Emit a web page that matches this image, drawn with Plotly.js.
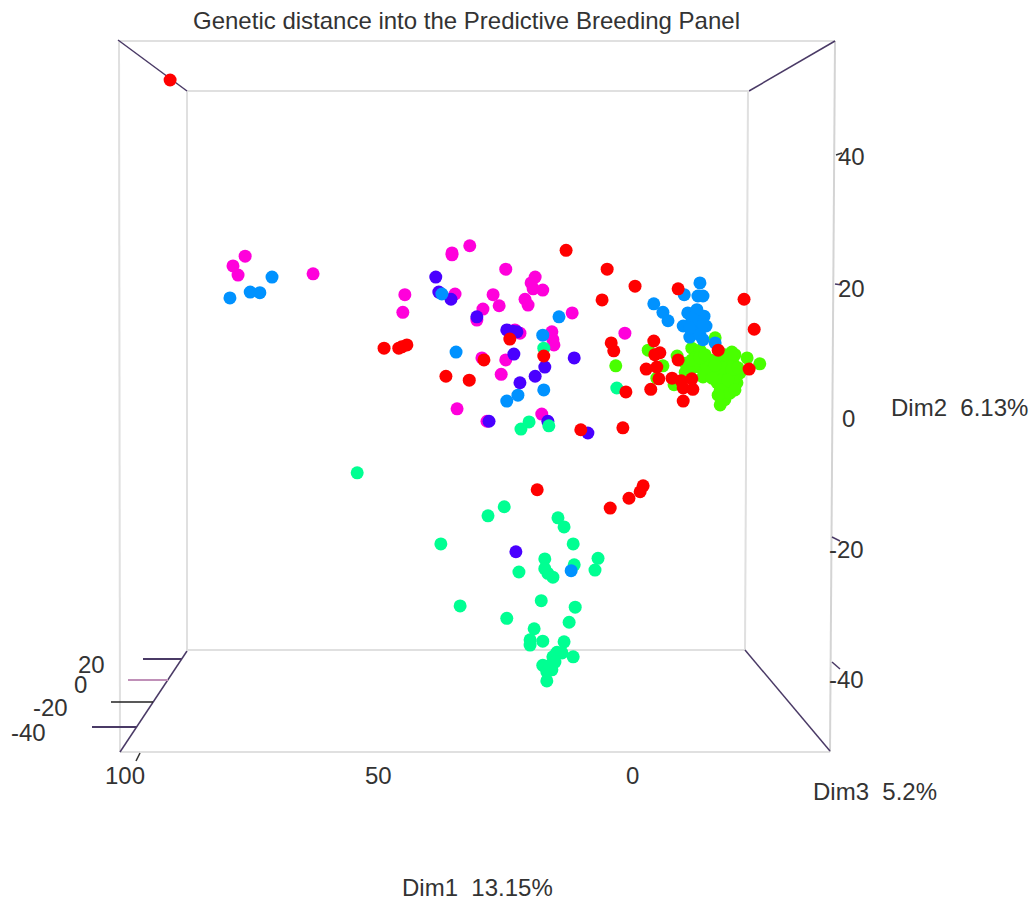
<!DOCTYPE html>
<html><head><meta charset="utf-8">
<script src="https://cdn.plot.ly/plotly-3.0.1.min.js"></script>
<style>html,body{margin:0;padding:0;background:#fff}#c{width:1033px;height:900px}</style>
</head><body><div id="c"></div>
<script>
const magentaX=[32.0,35.5,35.5,24.9,19.1,19.9,19.5,17.6,27.4,34.9,44.8,45.2,21.1,20.5,26.2,29.4,30.6,11.8,15.8,15.6,15.4,23.1,22.1,29.6,24.9,25.8,34.5,28.6,17.8,1.4,76.3,78.7,77.7,62.9];
const magentaY=[26.4,25.3,25.0,22.8,21.6,20.7,19.8,19.6,18.9,19.0,18.9,16.2,18.2,17.3,17.2,16.7,15.0,16.1,13.2,12.0,11.2,13.5,13.0,9.2,8.9,6.7,1.4,-0.5,0.6,13.0,24.8,23.3,21.9,22.1];
const purpleX=[38.7,38.1,35.7,30.6,24.7,23.5,22.7,23.3,11.4,17.2,19.1,22.1,16.6,28.2,8.7,22.9];
const purpleY=[21.6,19.3,18.2,15.5,13.5,13.3,13.2,9.8,9.2,7.8,6.4,5.4,-0.5,-0.5,-2.3,-20.5];
const springX=[17.4,20.3,21.9,16.4,3.0,54.2,25.2,28.4,14.6,13.4,37.7,11.6,17.2,6.7,11.4,7.3,22.3,17.2,16.6,15.6,17.9,11.2,33.9,24.7,12.4,19.3,20.1,20.1,17.6,13.4,11.6,14.8,13.8,15.6,15.2,17.6,15.8,16.8,16.8,16.2];
const springY=[10.7,-0.6,-1.7,-1.2,4.6,-8.4,-13.6,-15.0,-15.3,-16.7,-19.3,-19.3,-21.6,-21.5,-22.5,-23.3,-23.6,-23.1,-23.8,-24.4,-28.0,-29.0,-28.8,-30.7,-31.3,-32.3,-34.0,-34.8,-34.2,-34.3,-36.6,-35.9,-36.0,-36.6,-37.4,-37.9,-38.6,-38.9,-40.3,-37.9];
const limeX=[-3.2,3.2,-6.1,-8.9,-8.3,-4.9,-10.5,-10.5,-11.8,-13.4,-16.4,-19.7,-22.7,-25.2,-13.4,-14.0,-16.8,-17.9,-19.9,-21.3,-16.0,-16.8,-18.7,-20.7,-18.3,-17.4,-18.3,-14.8,-18.7,-17.4,-19.9,-18.7,-19.9,-17.8,-12.4,-12.0,-15.4,-15.8,-17.8,-19.7,-16.4,-18.9,-20.9,-17.4,-19.3,-20.3,-18.3,-20.3,-17.0,-11.8,-13.4,-14.4];
const limeY=[10.4,8.0,8.0,9.5,5.1,6.1,8.4,7.0,10.7,10.4,12.3,10.1,9.2,8.3,7.8,6.3,8.9,8.9,8.4,6.9,7.4,5.4,4.8,5.4,3.8,2.0,2.8,7.8,6.9,6.9,6.6,8.1,5.7,5.8,9.2,7.7,8.9,6.1,7.7,7.4,8.1,5.8,7.7,4.3,3.8,4.3,9.7,9.7,3.5,8.9,9.2,9.7];
const blueX=[37.5,14.4,17.6,34.7,17.4,22.5,24.7,-13.4,-10.3,-13.0,-14.0,-4.3,-6.1,-7.1,-11.0,-14.2,-10.1,-12.8,-14.6,-12.4,-11.4,-13.4,-16.4,-14.0,12.0,71.0,79.3,75.3,73.4,-12.8,-11.8,-14.0,-11.4];
const blueY=[19.0,15.5,12.7,10.1,4.3,3.5,2.6,20.7,18.9,18.7,18.7,17.5,16.2,14.9,16.1,15.6,14.1,14.7,14.1,13.5,12.4,12.7,11.5,12.0,-23.4,21.6,18.4,19.3,19.2,16.6,15.3,14.3,13.8];
const redX=[13.0,5.9,24.1,48.9,46.0,45.4,44.4,29.2,17.4,36.7,32.1,10.1,4.9,-0.6,-9.1,-22.1,-24.1,4.1,3.6,-4.3,-5.5,-4.5,-4.9,-2.8,-9.1,-5.3,-3.7,-7.9,-9.7,-11.8,-10.1,-12.0,-10.1,1.2,1.8,-17.0,-23.1,18.7,4.3,-2.2,-1.6,0.6,91.1];
const redY=[25.7,18.1,12.1,10.7,10.7,10.9,11.2,8.9,9.5,6.4,5.8,-1.8,22.8,20.2,19.8,18.2,13.6,11.5,10.3,11.8,10.0,9.7,7.8,7.5,8.9,6.0,4.4,6.1,5.7,6.0,4.6,4.4,2.6,4.0,-1.5,10.4,7.5,-11.0,-13.8,-10.4,-11.3,-12.3,51.8];
const dim1Ticks=["100","50","0"];
const dim2Ticks=["40","20","0","-20","-40"];
const dim3Ticks=["20","0","-20","-40"];

const W=1033,H=900,FONT='"Liberation Sans", Arial, sans-serif';
const px=v=>v/W, py=v=>1-v/H;
const series=[[magentaX,magentaY,'#FF00DB'],[purpleX,purpleY,'#4900FF'],[springX,springY,'#00FF92'],[limeX,limeY,'#49FF00'],[blueX,blueY,'#0092FF'],[redX,redY,'#FF0000']];
const traces=series.map(([x,y,c])=>({type:'scatter',mode:'markers',x,y,marker:{color:c,size:13,line:{width:0}},hoverinfo:'x+y',showlegend:false}));

const seg=(a,b,c,d,color,w)=>({type:'line',xref:'paper',yref:'paper',x0:px(a),y0:py(b),x1:px(c),y1:py(d),line:{color,width:w},layer:'below'});
const grey='#e0e0e0',dark='#4a3a66';
const shapes=[
 seg(118,41,835,41,grey,2),seg(120,752,830,752,grey,2),seg(119,41,120,752,grey,2),seg(835,41,830,752,'#d4d4d4',2),
 seg(187,91,748,91,grey,2),seg(187,650,745,650,grey,2),seg(187,91,187,650,grey,2),seg(748,91,745,650,grey,2),
 seg(118,40,187,91,dark,1.5),seg(835,41,749,91,dark,1.5),seg(745,650,830,751,dark,1.5),seg(120,752,187,651,dark,1.5),
 seg(143,659,182,659,dark,2),seg(128,680,168,680,'#c090b8',2),seg(111,702,153,702,'#222',1.5),seg(92,727,137,727,dark,2),
 seg(140,753,136,761,'#333',1.5),seg(832,537,840,541,dark,1.5),seg(832,662,840,669,dark,1.5),seg(836,155,842,153,'#333',1.5),seg(835,284,842,285,dark,1.5)
];
const label=(text,x,y,size)=>({text,xref:'paper',yref:'paper',x:px(x),y:py(y),xanchor:'center',yanchor:'middle',showarrow:false,font:{family:FONT,size:size||24,color:'#333'}});
const dim1X=[125,378,632],dim2LX=[851,851,848,846,846],dim2LY=[157,288,418,549,679],dim3LX=[91,80,50,28],dim3LY=[664,684,707,732];
const annotations=[
 label('Genetic distance into the Predictive Breeding Panel',466,20,24),
 ...dim1Ticks.map((t,i)=>label(t,dim1X[i],775)),
 ...dim2Ticks.map((t,i)=>label(t,dim2LX[i],dim2LY[i])),
 ...dim3Ticks.map((t,i)=>label(t,dim3LX[i],dim3LY[i])),
 label('Dim2  6.13%',959,407),label('Dim3  5.2%',875,791),label('Dim1  13.15%',477,887)
];
const hidden={visible:false,fixedrange:true};
Plotly.newPlot('c',traces,{
 width:W,height:H,margin:{l:0,r:0,t:0,b:0},paper_bgcolor:'#fff',plot_bgcolor:'#fff',showlegend:false,
 xaxis:{...hidden,range:[124.65,-79.09]},yaxis:{...hidden,range:[-73.87,64.06]},
 shapes,annotations
},{displayModeBar:false,staticPlot:true});
</script></body></html>
